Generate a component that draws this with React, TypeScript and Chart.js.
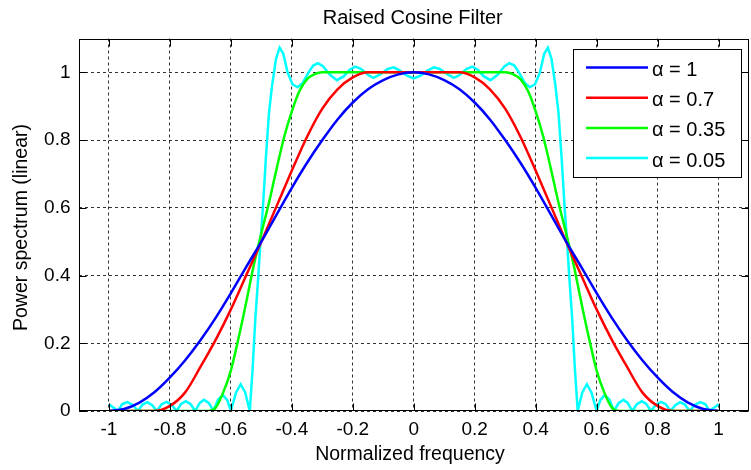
import React, { useEffect, useRef } from 'react';
import { Chart, registerables } from 'chart.js';

Chart.register(...registerables);

const FONT = '"Liberation Sans", Arial, Helvetica, sans-serif';

const chartTitle = 'Raised Cosine Filter';
const xAxisTitle = 'Normalized frequency';
const yAxisTitle = 'Power spectrum (linear)';

const xTicks = [-1, -0.8, -0.6, -0.4, -0.2, 0, 0.2, 0.4, 0.6, 0.8, 1];
const xTickLabels = ['-1', '-0.8', '-0.6', '-0.4', '-0.2', '0', '0.2', '0.4', '0.6', '0.8', '1'];
const yTicks = [0, 0.2, 0.4, 0.6, 0.8, 1];
const yTickLabels = ['0', '0.2', '0.4', '0.6', '0.8', '1'];

const seriesLabels = ['\u03b1 = 1', '\u03b1 = 0.7', '\u03b1 = 0.35', '\u03b1 = 0.05'];
const seriesColors = ['#0000ff', '#ff0000', '#00ff00', '#00ffff'];

// alpha = 1
const alpha1Freq = [
  -1, -0.95, -0.9, -0.85, -0.8, -0.75, -0.7, -0.65, -0.6, -0.55, -0.5, -0.45, -0.4, -0.35, -0.3, -0.25, -0.2, -0.15, -0.1, -0.05,
  0, 0.05, 0.1, 0.15, 0.2, 0.25, 0.3, 0.35, 0.4, 0.45, 0.5, 0.55, 0.6, 0.65, 0.7, 0.75, 0.8, 0.85, 0.9, 0.95, 1,
];
const alpha1Power = [
  0.0, 0.006, 0.025, 0.056, 0.099, 0.15, 0.209, 0.275, 0.348, 0.425, 0.5, 0.58, 0.659, 0.733, 0.8, 0.861, 0.911, 0.95, 0.977, 0.994,
  1.0, 0.994, 0.977, 0.95, 0.911, 0.861, 0.8, 0.733, 0.659, 0.58, 0.5, 0.425, 0.348, 0.275, 0.209, 0.15, 0.099, 0.056, 0.025, 0.006, 0.0,
];

// alpha = 0.7
const alpha07Freq = [
  -1, -0.95, -0.9, -0.85, -0.8, -0.75, -0.7, -0.65, -0.6, -0.55, -0.5, -0.45, -0.4, -0.35, -0.3, -0.25, -0.2, -0.15, -0.1, -0.05,
  0, 0.05, 0.1, 0.15, 0.2, 0.25, 0.3, 0.35, 0.4, 0.45, 0.5, 0.55, 0.6, 0.65, 0.7, 0.75, 0.8, 0.85, 0.9, 0.95, 1,
];
const alpha07Power = [
  0.0, 0.0, 0.0, 0.0, 0.015, 0.055, 0.13, 0.21, 0.3, 0.4, 0.5, 0.605, 0.71, 0.81, 0.893, 0.95, 0.985, 1.0, 1.0, 1.0,
  1.0, 1.0, 1.0, 1.0, 0.985, 0.95, 0.893, 0.81, 0.71, 0.605, 0.5, 0.4, 0.3, 0.21, 0.13, 0.055, 0.015, 0.0, 0.0, 0.0, 0.0,
];

// alpha = 0.35
const alpha035Freq = [
  -1, -0.9, -0.8, -0.7, -0.675, -0.65, -0.625, -0.6, -0.575, -0.55, -0.525, -0.5, -0.475, -0.45, -0.425, -0.4, -0.375, -0.35, -0.325, -0.3, -0.2, -0.1,
  0, 0.1, 0.2, 0.3, 0.325, 0.35, 0.375, 0.4, 0.425, 0.45, 0.475, 0.5, 0.525, 0.55, 0.575, 0.6, 0.625, 0.65, 0.675, 0.7, 0.8, 0.9, 1,
];
const alpha035Power = [
  0.0, 0.0, 0.0, 0.0, 0.0, 0.01, 0.055, 0.12, 0.215, 0.32, 0.43, 0.525, 0.615, 0.715, 0.81, 0.885, 0.945, 0.98, 0.995, 1.0, 1.0, 1.0,
  1.0, 1.0, 1.0, 1.0, 0.995, 0.98, 0.945, 0.885, 0.81, 0.715, 0.615, 0.525, 0.43, 0.32, 0.215, 0.12, 0.055, 0.01, 0.0, 0.0, 0.0, 0.0, 0.0,
];

// alpha = 0.05
const alpha005Freq = [
  -1.0, -0.986, -0.97, -0.957, -0.94, -0.922, -0.905, -0.89, -0.874, -0.858, -0.843, -0.827, -0.811, -0.794, -0.778, -0.763,
  -0.748, -0.732, -0.717, -0.702, -0.688, -0.672, -0.657, -0.642, -0.626, -0.612, -0.6, -0.583, -0.568, -0.553, -0.538, -0.529,
  -0.52, -0.51, -0.503, -0.495, -0.485, -0.475, -0.465, -0.452, -0.44, -0.428, -0.414, -0.398, -0.381, -0.365, -0.345, -0.33,
  -0.314, -0.298, -0.275, -0.252, -0.23, -0.21, -0.192, -0.172, -0.15, -0.132, -0.112, -0.085, -0.066, -0.045, -0.022,
  0,
  0.022, 0.045, 0.066, 0.085, 0.112, 0.132, 0.15, 0.172, 0.192, 0.21, 0.23, 0.252, 0.275, 0.298, 0.314, 0.33,
  0.345, 0.365, 0.381, 0.398, 0.414, 0.428, 0.44, 0.452, 0.465, 0.475, 0.485, 0.495, 0.503, 0.51, 0.52, 0.529,
  0.538, 0.553, 0.568, 0.583, 0.6, 0.612, 0.626, 0.642, 0.657, 0.672, 0.688, 0.702, 0.717, 0.732, 0.748, 0.763,
  0.778, 0.794, 0.811, 0.827, 0.843, 0.858, 0.874, 0.89, 0.905, 0.922, 0.94, 0.957, 0.97, 0.986, 1.0,
];
const alpha005Power = [
  0.02, 0.01, 0.0, 0.02, 0.026, 0.018, 0.0, 0.019, 0.026, 0.017, 0.0, 0.02, 0.027, 0.018, 0.0, 0.021,
  0.029, 0.02, 0.0, 0.024, 0.033, 0.023, 0.0, 0.034, 0.047, 0.032, 0.0, 0.055, 0.079, 0.055, 0.0, 0.12,
  0.27, 0.4, 0.5, 0.6, 0.75, 0.88, 0.96, 1.04, 1.073, 1.055, 1.0, 0.965, 0.956, 0.968, 1.0, 1.02,
  1.027, 1.018, 0.993, 0.977, 0.988, 1.008, 1.017, 1.01, 0.992, 0.984, 0.993, 1.01, 1.015, 1.005, 0.99,
  0.982,
  0.99, 1.005, 1.015, 1.01, 0.993, 0.984, 0.992, 1.01, 1.017, 1.008, 0.988, 0.977, 0.993, 1.018, 1.027, 1.02,
  1.0, 0.968, 0.956, 0.965, 1.0, 1.055, 1.073, 1.04, 0.96, 0.88, 0.75, 0.6, 0.5, 0.4, 0.27, 0.12,
  0.0, 0.055, 0.079, 0.055, 0.0, 0.032, 0.047, 0.034, 0.0, 0.023, 0.033, 0.024, 0.0, 0.02, 0.029, 0.021,
  0.0, 0.018, 0.027, 0.02, 0.0, 0.017, 0.026, 0.019, 0.0, 0.018, 0.026, 0.02, 0.0, 0.01, 0.02,
];

const toPoints = (f: number[], p: number[]) => f.map((x, i) => ({ x, y: p[i] }));

const decorPlugin = {
  id: 'decor',
  afterDraw(chart: any) {
    const { ctx, chartArea: a } = chart;
    const xs = chart.scales.x;
    const ys = chart.scales.y;
    ctx.save();
    ctx.setLineDash([]);
    ctx.strokeStyle = '#000';
    ctx.lineWidth = 1;
    const L = Math.round(a.left) + 0.5;
    const R = Math.round(a.right) - 0.5;
    const T = Math.round(a.top) + 0.5;
    const B = Math.round(a.bottom) - 0.5;
    ctx.strokeRect(L, T, R - L, B - T);
    const tl = 7;
    ctx.beginPath();
    xTicks.forEach((v) => {
      const px = Math.round(xs.getPixelForValue(v)) + 0.5;
      ctx.moveTo(px, B); ctx.lineTo(px, B - tl);
      ctx.moveTo(px, T); ctx.lineTo(px, T + tl);
    });
    yTicks.forEach((v) => {
      const py = Math.round(ys.getPixelForValue(v)) + 0.5;
      ctx.moveTo(L, py); ctx.lineTo(L + tl, py);
      ctx.moveTo(R, py); ctx.lineTo(R - tl, py);
    });
    ctx.stroke();

    // legend
    const lx0 = 573.5, ly0 = 49.5, lw = 168, lh = 128;
    ctx.fillStyle = '#fff';
    ctx.fillRect(lx0, ly0, lw, lh);
    ctx.strokeRect(lx0, ly0, lw, lh);
    ctx.font = `20px ${FONT}`;
    ctx.textAlign = 'left';
    ctx.textBaseline = 'alphabetic';
    chart.data.datasets.forEach((ds: any, i: number) => {
      const ry = 67.5 + i * 30.2;
      ctx.strokeStyle = ds.borderColor;
      ctx.lineWidth = 2.5;
      ctx.beginPath();
      ctx.moveTo(586, ry);
      ctx.lineTo(648, ry);
      ctx.stroke();
      ctx.fillStyle = '#000';
      ctx.fillText(ds.label, 652, ry + 8.5);
    });

    // titles
    ctx.fillStyle = '#000';
    ctx.textAlign = 'center';
    ctx.font = `20px ${FONT}`;
    ctx.fillText(chartTitle, (a.left + a.right) / 2 - 1, 23.5);
    ctx.font = `19.5px ${FONT}`;
    ctx.fillText(xAxisTitle, 410, 460);
    ctx.save();
    ctx.translate(26.5, 227.5);
    ctx.rotate(-Math.PI / 2);
    ctx.fillText(yAxisTitle, 0, 0);
    ctx.restore();
    ctx.restore();
  },
};

export default function App() {
  const ref = useRef<HTMLCanvasElement>(null);
  useEffect(() => {
    const canvas = ref.current;
    if (!canvas) return;
    const base = { pointRadius: 0, borderWidth: 2.5, fill: false };
    const chart = new Chart(canvas, {
      type: 'line',
      data: {
        datasets: [
          { ...base, label: seriesLabels[0], borderColor: seriesColors[0], data: toPoints(alpha1Freq, alpha1Power), cubicInterpolationMode: 'monotone' },
          { ...base, label: seriesLabels[1], borderColor: seriesColors[1], data: toPoints(alpha07Freq, alpha07Power), cubicInterpolationMode: 'monotone' },
          { ...base, label: seriesLabels[2], borderColor: seriesColors[2], data: toPoints(alpha035Freq, alpha035Power), cubicInterpolationMode: 'monotone' },
          { ...base, label: seriesLabels[3], borderColor: seriesColors[3], data: toPoints(alpha005Freq, alpha005Power), tension: 0 },
        ],
      } as any,
      options: {
        responsive: false,
        animation: false,
        layout: { padding: { top: 38.5, right: 2, left: 0, bottom: 0 } },
        plugins: { legend: { display: false }, title: { display: false }, tooltip: { enabled: false } },
        scales: {
          x: {
            type: 'linear',
            min: -1.1,
            max: 1.1,
            position: 'bottom',
            afterBuildTicks: (s: any) => { s.ticks = xTicks.map((v) => ({ value: v })); },
            afterFit: (s: any) => { s.height = 59; },
            ticks: {
              autoSkip: false,
              maxRotation: 0,
              padding: 7,
              color: '#000',
              font: { family: FONT, size: 19 },
              callback: (_v: any, i: number) => xTickLabels[i],
            },
            grid: { color: 'rgba(0,0,0,0.8)', lineWidth: 1, drawTicks: false },
            border: { display: false, dash: [3, 3] },
          },
          y: {
            type: 'linear',
            min: 0,
            max: 1.1,
            afterBuildTicks: (s: any) => { s.ticks = yTicks.map((v) => ({ value: v })); },
            afterFit: (s: any) => { s.width = 78.5; },
            ticks: {
              padding: 8,
              color: '#000',
              font: { family: FONT, size: 19 },
              callback: (_v: any, i: number) => yTickLabels[i],
            },
            grid: { color: 'rgba(0,0,0,0.8)', lineWidth: 1, drawTicks: false },
            border: { display: false, dash: [3, 3] },
          },
        },
      } as any,
      plugins: [decorPlugin],
    });
    return () => chart.destroy();
  }, []);
  return (
    <div style={{ position: 'absolute', left: 0, top: 0, width: 751, height: 470, background: '#fff' }}>
      <canvas ref={ref} width={751} height={470} style={{ display: 'block', width: 751, height: 470 }} />
    </div>
  );
}
